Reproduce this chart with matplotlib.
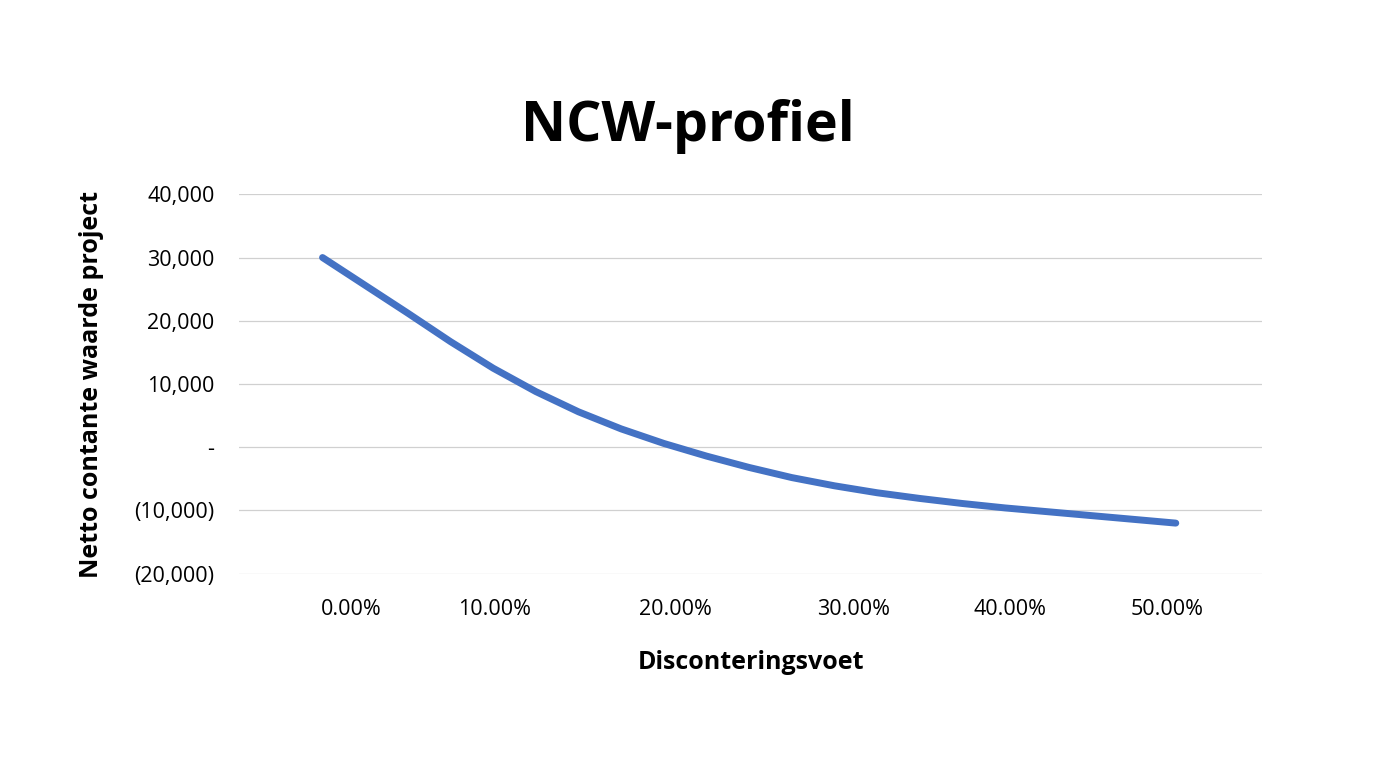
import matplotlib.pyplot as plt
from matplotlib.ticker import FuncFormatter

plt.rcParams['font.family'] = ['Open Sans', 'DejaVu Sans']

# discount rate (%) and net present value
rates = [0, 2.5, 5, 7.5, 10, 12.5, 15, 17.5, 20, 22.5, 25,
         27.5, 30, 32.5, 35, 37.5, 40, 42.5, 45, 47.5, 50]
npv = [30000, 25600, 21200, 16700, 12500, 8800, 5600, 2900, 600, -1400, -3200,
       -4800, -6100, -7200, -8100, -8900, -9600, -10200, -10800, -11400, -12000]

tick_pos = [1.7, 10.1, 20.7, 31.1, 40.3, 49.5]
tick_labels = ["0.00%", "10.00%", "20.00%", "30.00%", "40.00%", "50.00%"]
y_ticks = [-20000, -10000, 0, 10000, 20000, 30000, 40000]


def fmt(v, _):
    if v == 0:
        return "-"
    if v < 0:
        return f"({abs(v):,.0f})"
    return f"{v:,.0f}"


fig = plt.figure(figsize=(13.76, 7.68), dpi=100)
ax = fig.add_axes([0.174, 0.253, 0.743, 0.494])

ax.plot(rates, npv, color='#4472C4', linewidth=5, solid_capstyle='round',
        solid_joinstyle='round')

ax.set_xlim(-4.87, 55.04)
ax.set_ylim(-20000, 40000)
ax.set_yticks(y_ticks)
ax.yaxis.set_major_formatter(FuncFormatter(fmt))
ax.set_xticks(tick_pos)
ax.set_xticklabels(tick_labels)
ax.tick_params(axis='both', length=0, labelsize=15.5, pad=18)
ax.grid(axis='y', color='#d0d0d0', linewidth=0.9)
ax.set_axisbelow(True)
for s in ax.spines.values():
    s.set_visible(False)

ax.set_xlabel("Disconteringsvoet", fontsize=18, fontweight='bold', labelpad=22)
ax.set_ylabel("Netto contante waarde project", fontsize=18, fontweight='bold', labelpad=22)
fig.text(0.5, 0.835, "NCW-profiel", ha='center', va='center', fontsize=40, fontweight='bold')

fig.savefig("out.png", dpi=100)
